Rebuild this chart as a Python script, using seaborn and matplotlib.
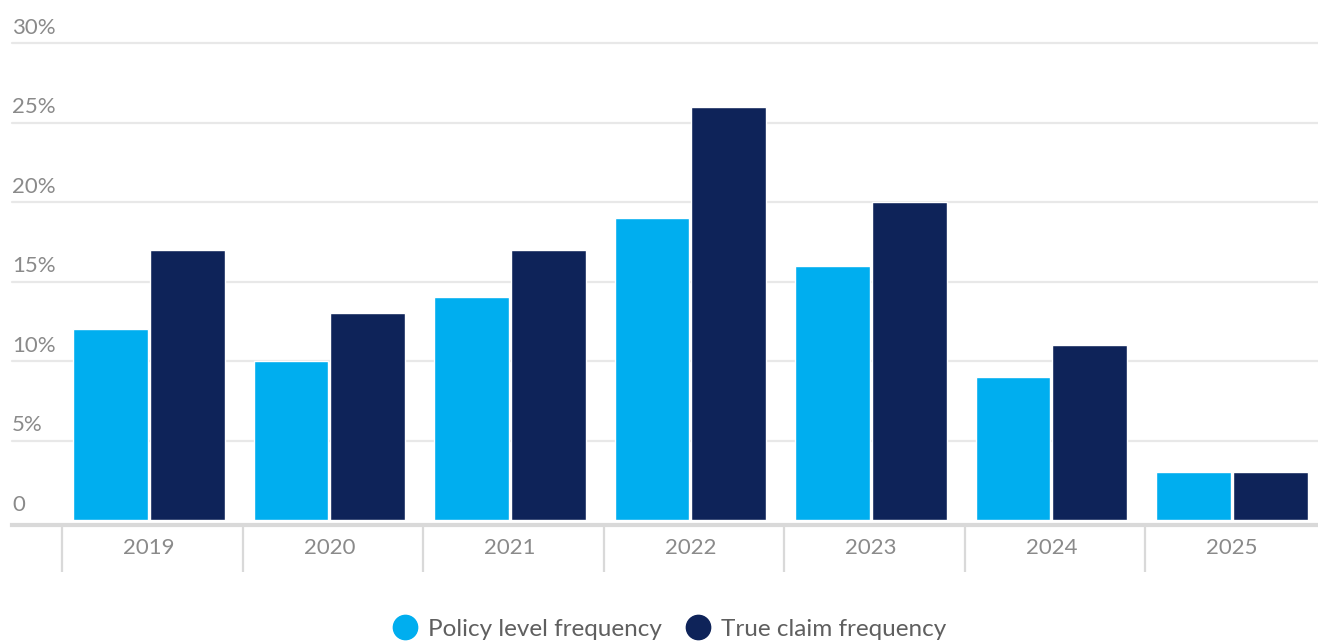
import matplotlib
matplotlib.use("Agg")
import matplotlib.pyplot as plt
from matplotlib.lines import Line2D
import seaborn as sns
import pandas as pd

# Claim frequency by year, in percent
years = ["2019", "2020", "2021", "2022", "2023", "2024", "2025"]
policy_level = [12, 10, 14, 19, 16, 9, 3]
true_claim = [17, 13, 17, 26, 20, 11, 3]
series_names = ["Policy level frequency", "True claim frequency"]
y_ticks = [0, 5, 10, 15, 20, 25, 30]
y_tick_labels = ["0", "5%", "10%", "15%", "20%", "25%", "30%"]

LIGHT = "#00AEEF"
NAVY = "#0E2359"
GRID = "#e8e8e8"
AXIS = "#d9d9d9"
LABEL = "#8a8a8a"
LEGEND_TEXT = "#5f5f5f"

df = pd.DataFrame({
    "year": years * 2,
    "value": policy_level + true_claim,
    "series": [series_names[0]] * len(years) + [series_names[1]] * len(years),
})

sns.set_theme(style="white")
plt.rcParams["font.family"] = ["Lato", "DejaVu Sans"]

fig = plt.figure(figsize=(13.18, 6.41), dpi=100)
W, H = 1318, 641
ax = fig.add_axes([12 / W, (H - 520) / H, 1 - 12 / W, (520 - 43) / H])

sns.barplot(
    data=df, x="year", y="value", hue="series", order=years,
    hue_order=series_names, palette=[LIGHT, NAVY],
    width=0.85, gap=0.025, saturation=1, legend=False, ax=ax, zorder=3,
)

# horizontal gridlines
ax.set_yticks(y_ticks)
ax.set_yticklabels([])
ax.tick_params(axis="y", length=0)
for v in y_ticks[1:]:
    ax.axhline(v, color=GRID, lw=1.6, zorder=1, clip_on=False)

# y labels sit above their gridline at the left edge
for v, lab in zip(y_ticks, y_tick_labels):
    ax.annotate(lab, xy=(0, v), xycoords=("axes fraction", "data"),
                xytext=(0, 6.5), textcoords="offset points",
                ha="left", va="baseline", fontsize=16, color=LABEL)

for s in ["top", "right", "left"]:
    ax.spines[s].set_visible(False)
ax.spines["bottom"].set_color(AXIS)
ax.spines["bottom"].set_linewidth(3)
ax.spines["bottom"].set_position(("outward", 3.6))
ax.spines["bottom"].set_zorder(4)

# category labels and separators below the axis; the separator grid sits a
# hair to the right of the bar groups
sep_shift = 0.019
ax.set_xticks(range(len(years)))
ax.set_xticklabels(years, fontsize=16, color=LABEL)
ax.set_xticks([i - 0.5 + sep_shift for i in range(len(years) + 1)], minor=True)
ax.tick_params(axis="x", which="major", bottom=False, length=0, pad=9.6)
ax.tick_params(axis="x", which="minor", bottom=True, length=33.5, width=1.6,
               color=AXIS, direction="out")
ax.set_xlabel("")
ax.set_ylabel("")

ax.set_xlim(-0.777 + sep_shift, 6.458 + sep_shift)
ax.set_ylim(0, 30)

handles = [
    Line2D([], [], marker="o", linestyle="none", markersize=17.5,
           markerfacecolor=c, markeredgecolor=c)
    for c in (LIGHT, NAVY)
]
leg = fig.legend(handles, series_names, loc="center",
                 bbox_to_anchor=(0.508, 0.018), ncol=2, frameon=False,
                 fontsize=17.5, handletextpad=0.45, columnspacing=1.0,
                 handlelength=1.0, labelcolor=LEGEND_TEXT)

fig.savefig("out.png", dpi=100)
